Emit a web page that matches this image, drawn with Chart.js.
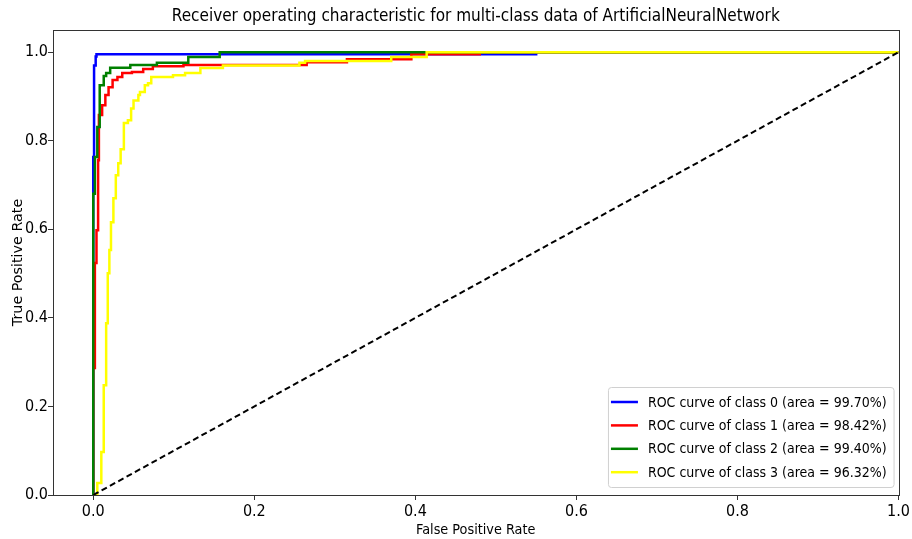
<!DOCTYPE html>
<html>
<head>
<meta charset="utf-8">
<script src="https://cdn.jsdelivr.net/npm/chart.js@4/dist/chart.umd.min.js"></script>
<style>
html,body{margin:0;padding:0;background:#fff;}
#wrap{width:912px;height:539px;}
</style>
</head>
<body>
<div id="wrap"><canvas id="c" width="912" height="539"></canvas></div>
<script>
// ---- data ----
const chartTitle = "Receiver operating characteristic for multi-class data of ArtificialNeuralNetwork";
const xLabel = "False Positive Rate";
const yLabel = "True Positive Rate";
const xTicks = [0.0, 0.2, 0.4, 0.6, 0.8, 1.0];
const yTicks = [0.0, 0.2, 0.4, 0.6, 0.8, 1.0];

const seriesLabels = [
  "ROC curve of class 0 (area = 99.70%)",
  "ROC curve of class 1 (area = 98.42%)",
  "ROC curve of class 2 (area = 99.40%)",
  "ROC curve of class 3 (area = 96.32%)"
];
const seriesColors = ["#0000ff", "#ff0000", "#008000", "#ffff00"];

// step points: (fpr, tpr) where the curve rises (drawn as horizontal-then-vertical steps)
const fpr0 = [0, 0, 0.001, 0.003, 0.004, 0.55, 1];
const tpr0 = [0, 0.763, 0.97, 0.99, 0.995, 1.0, 1];

const fpr1 = [0, 0, 0.002, 0.004, 0.006, 0.007, 0.011, 0.015, 0.019, 0.024, 0.030, 0.036, 0.048, 0.062, 0.074, 0.112, 0.265, 0.315, 0.395, 0.48, 1];
const tpr1 = [0, 0.287, 0.524, 0.598, 0.756, 0.858, 0.880, 0.903, 0.921, 0.937, 0.944, 0.953, 0.955, 0.962, 0.968, 0.971, 0.977, 0.984, 0.995, 1.0, 1];

const fpr2 = [0, 0, 0.002, 0.005, 0.008, 0.013, 0.016, 0.021, 0.046, 0.079, 0.118, 0.157, 1];
const tpr2 = [0, 0.68, 0.763, 0.831, 0.925, 0.946, 0.953, 0.965, 0.971, 0.976, 0.989, 1.0, 1];

const fpr3 = [0, 0.005, 0.010, 0.013, 0.016, 0.018, 0.020, 0.022, 0.025, 0.028, 0.031, 0.034, 0.038, 0.043, 0.047, 0.050, 0.056, 0.058, 0.064, 0.068, 0.072, 0.099, 0.114, 0.133, 0.161, 0.256, 0.263, 0.370, 0.414, 1];
const tpr3 = [0, 0.027, 0.097, 0.248, 0.388, 0.501, 0.553, 0.616, 0.670, 0.722, 0.749, 0.781, 0.840, 0.846, 0.873, 0.891, 0.903, 0.910, 0.925, 0.930, 0.944, 0.948, 0.953, 0.964, 0.970, 0.976, 0.980, 0.989, 1.0, 1];

const chanceX = [0, 1];
const chanceY = [0, 1];

const fprs = [fpr0, fpr1, fpr2, fpr3];
const tprs = [tpr0, tpr1, tpr2, tpr3];

// ---- build ----
const COND = "'DejaVu Sans Condensed', 'DejaVu Sans', sans-serif";
const pts = (xs, ys) => xs.map((x, i) => ({x: x, y: ys[i]}));

const datasets = fprs.map((f, i) => ({
  label: seriesLabels[i],
  data: pts(f, tprs[i]),
  borderColor: seriesColors[i],
  backgroundColor: seriesColors[i],
  borderWidth: 2.5,
  stepped: 'before',
  showLine: true,
  pointRadius: 0,
  fill: false,
  clip: 0,
  order: 10 - i
}));
datasets.push({
  label: "chance",
  data: pts(chanceX, chanceY),
  borderColor: "#000000",
  borderWidth: 2,
  borderDash: [6, 3.5],
  showLine: true,
  pointRadius: 0,
  fill: false,
  clip: 0,
  order: 1
});

const framePlugin = {
  id: 'frame',
  afterDatasetsDraw(chart) {
    const {ctx, chartArea: a} = chart;
    ctx.save();
    ctx.strokeStyle = '#333';
    ctx.lineWidth = 1;
    ctx.strokeRect(Math.round(a.left) + 0.5, Math.round(a.top) + 0.5, Math.round(a.right - a.left), Math.round(a.bottom - a.top));
    ctx.restore();
  }
};

const legendPlugin = {
  id: 'boxLegend',
  afterDraw(chart) {
    const {ctx, chartArea: a} = chart;
    ctx.save();
    ctx.font = "14px " + COND;
    let tw = 0;
    seriesLabels.forEach(s => { tw = Math.max(tw, ctx.measureText(s).width); });
    const rowH = 23.4;
    const w = 3 + 27 + 10 + tw + 7;
    const h = 100;
    const right = a.right - 5, bottom = a.bottom - 8;
    const left = right - w, top = bottom - h;
    ctx.beginPath();
    if (ctx.roundRect) ctx.roundRect(left + 0.5, top + 0.5, w, h, 3); else ctx.rect(left + 0.5, top + 0.5, w, h);
    ctx.fillStyle = 'rgba(255,255,255,0.8)';
    ctx.fill();
    ctx.strokeStyle = '#d0d0d0';
    ctx.lineWidth = 1;
    ctx.stroke();
    seriesLabels.forEach((s, i) => {
      const y = top + 15 + i * rowH;
      ctx.strokeStyle = seriesColors[i];
      ctx.lineWidth = 2.5;
      ctx.beginPath();
      ctx.moveTo(left + 3, y);
      ctx.lineTo(left + 30, y);
      ctx.stroke();
      ctx.fillStyle = '#000';
      ctx.textBaseline = 'middle';
      ctx.textAlign = 'left';
      ctx.fillText(s, left + 40, y + 1);
    });
    ctx.restore();
  }
};

new Chart(document.getElementById('c'), {
  type: 'scatter',
  data: { datasets: datasets },
  options: {
    responsive: false,
    animation: false,
    layout: { padding: { left: 0, right: 12, top: 0, bottom: 0 } },
    plugins: {
      legend: { display: false },
      tooltip: { enabled: false },
      title: {
        display: true,
        fullSize: false,
        text: chartTitle,
        color: '#000',
        font: { family: COND, size: 17, weight: 'normal' },
        padding: { top: 6, bottom: 3.6 }
      }
    },
    scales: {
      x: {
        type: 'linear',
        min: -0.05,
        max: 1.0,
        afterBuildTicks: s => { s.ticks = xTicks.map(v => ({value: v})); },
        afterFit: s => { s.height = 44; },
        ticks: {
          color: '#000',
          font: { family: COND, size: 16 },
          padding: 2,
          maxRotation: 0,
          callback: v => Number(v).toFixed(1)
        },
        grid: { display: true, drawOnChartArea: false, drawTicks: true, tickLength: 5, tickColor: '#333', color: '#333' },
        border: { display: false },
        title: { display: true, text: xLabel, color: '#000', font: { family: COND, size: 14.3 }, padding: { top: 0, bottom: 0 } }
      },
      y: {
        type: 'linear',
        min: 0,
        max: 1.05,
        afterBuildTicks: s => { s.ticks = yTicks.map(v => ({value: v})); },
        afterFit: s => { s.width = 53; },
        ticks: {
          color: '#000',
          font: { family: COND, size: 16 },
          padding: 0,
          callback: v => Number(v).toFixed(1)
        },
        grid: { display: true, drawOnChartArea: false, drawTicks: true, tickLength: 5, tickColor: '#333', color: '#333' },
        border: { display: false },
        title: { display: true, text: yLabel, color: '#000', font: { family: "'DejaVu Sans', sans-serif", size: 14.3 }, padding: { top: 9.7, bottom: 0 } }
      }
    }
  },
  plugins: [framePlugin, legendPlugin]
});
</script>
</body>
</html>
